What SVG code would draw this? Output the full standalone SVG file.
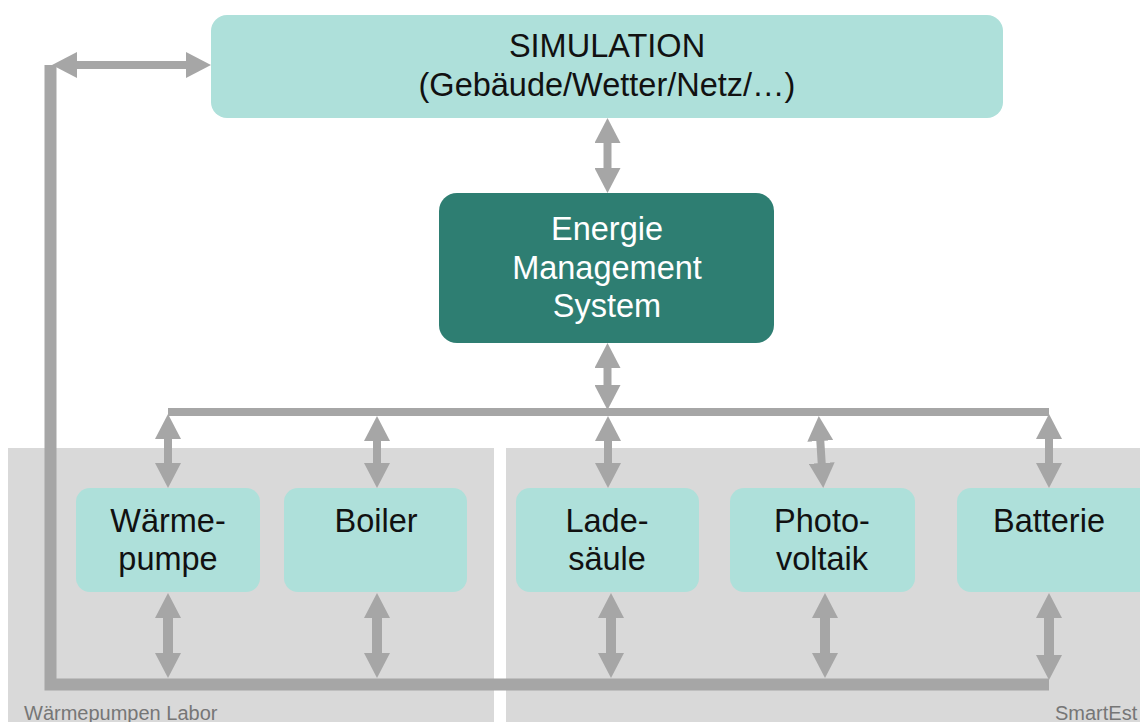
<svg xmlns="http://www.w3.org/2000/svg" width="1140" height="722" viewBox="0 0 1140 722">
<style>
.panel{fill:#D9D9D9}
.light{fill:#AEE0DA}
.dark{fill:#2E7E72}
.t{font-family:"Liberation Sans",Arial,sans-serif;font-size:32.5px;fill:#111;text-anchor:middle}
.tw{fill:#FFFFFF}
.lab{font-family:"Liberation Sans",Arial,sans-serif;font-size:20px;fill:#767676}
.c{stroke:#A6A6A6;fill:none}
.a{stroke:#A6A6A6;stroke-width:8;marker-start:url(#ah);marker-end:url(#ah)}
.a2{stroke:#A6A6A6;stroke-width:10;marker-start:url(#ah);marker-end:url(#ah)}
</style>
<defs>
<marker id="ah" viewBox="0 0 25 26" refX="5" refY="13" markerWidth="25" markerHeight="26" markerUnits="userSpaceOnUse" orient="auto-start-reverse">
<path d="M0,0 L25,13 L0,26 z" fill="#A6A6A6"/>
</marker>
</defs>
<rect width="1140" height="722" fill="#FFFFFF"/>
<g id="panel-left"><rect class="panel" x="8" y="448" width="486" height="274"/><text class="lab" x="24" y="720">Wärmepumpen Labor</text></g>
<g id="panel-right"><rect class="panel" x="506" y="448" width="634" height="274"/><text class="lab" x="1055" y="720">SmartEst</text></g>
<g id="connectors">
<polyline class="c" stroke-width="12" points="1049,684.5 50.5,684.5 50.5,65"/>
<rect x="168" y="408" width="881" height="8" fill="#A6A6A6"/>
<line class="a" x1="72" y1="65" x2="191" y2="65"/>
<line class="a" x1="607.5" y1="138" x2="607.5" y2="173"/>
<line class="a" x1="607.5" y1="363" x2="607.5" y2="390"/>
<line class="a" x1="168" y1="434" x2="168" y2="468"/>
<line class="a" x1="377" y1="436" x2="377" y2="468"/>
<line class="a" x1="608" y1="436" x2="608" y2="468"/>
<line class="a" x1="820" y1="436" x2="822" y2="468"/>
<line class="a" x1="1049" y1="434" x2="1049" y2="468"/>
<line class="a2" x1="168" y1="613" x2="168" y2="658"/>
<line class="a2" x1="377" y1="613" x2="377" y2="658"/>
<line class="a2" x1="611" y1="613" x2="611" y2="658"/>
<line class="a2" x1="825" y1="613" x2="825" y2="658"/>
<line class="a2" x1="1049" y1="613" x2="1049" y2="660"/>
</g>
<g id="simulation"><rect class="light" x="211" y="15" width="792" height="103" rx="16"/>
<text class="t" x="607" y="57">SIMULATION</text><text class="t" x="607" y="96">(Gebäude/Wetter/Netz/…)</text></g>
<g id="ems"><rect class="dark" x="439" y="193" width="335" height="150" rx="18"/>
<text class="t tw" x="607" y="240">Energie</text><text class="t tw" x="607" y="279">Management</text><text class="t tw" x="607" y="317">System</text></g>
<g id="waermepumpe"><rect class="light" x="76" y="488" width="184" height="104" rx="14"/>
<text class="t" x="168" y="532">Wärme-</text><text class="t" x="168" y="570">pumpe</text></g>
<g id="boiler"><rect class="light" x="284" y="488" width="183" height="104" rx="14"/>
<text class="t" x="376" y="532">Boiler</text></g>
<g id="ladesaeule"><rect class="light" x="516" y="488" width="183" height="104" rx="14"/>
<text class="t" x="607" y="532">Lade-</text><text class="t" x="607" y="570">säule</text></g>
<g id="photovoltaik"><rect class="light" x="730" y="488" width="185" height="104" rx="14"/>
<text class="t" x="822" y="532">Photo-</text><text class="t" x="822" y="570">voltaik</text></g>
<g id="batterie"><rect class="light" x="957" y="488" width="200" height="104" rx="14"/>
<text class="t" x="1049" y="532">Batterie</text></g>
</svg>
